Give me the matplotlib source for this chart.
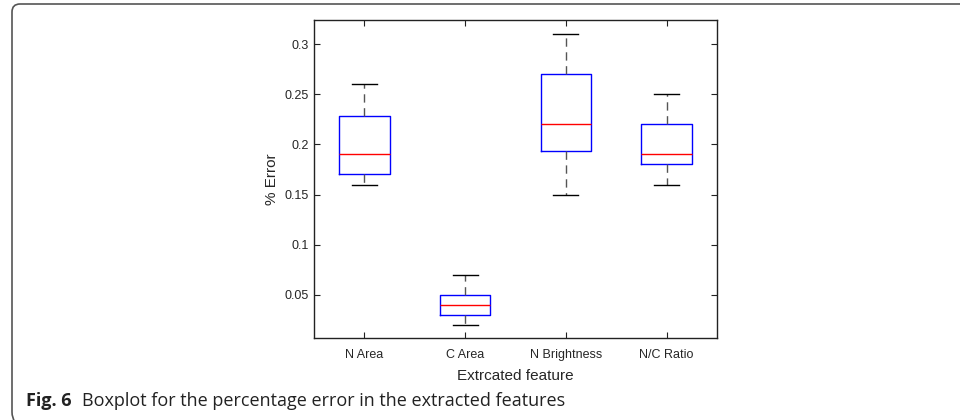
import matplotlib
matplotlib.use('Agg')
from matplotlib import pyplot as plt
from matplotlib.path import Path
from matplotlib.patches import PathPatch

features = ['N Area', 'C Area', 'N Brightness', 'N/C Ratio']
whislo = [0.16, 0.02, 0.15, 0.16]
q1 = [0.17, 0.03, 0.193, 0.18]
med = [0.19, 0.04, 0.22, 0.19]
q3 = [0.228, 0.05, 0.27, 0.22]
whishi = [0.26, 0.07, 0.31, 0.25]
y_ticks = [0.05, 0.1, 0.15, 0.2, 0.25, 0.3]
y_tick_labels = ['0.05', '0.1', '0.15', '0.2', '0.25', '0.3']

plt.rcParams['font.family'] = ['Liberation Sans', 'DejaVu Sans']

stats = []
for i, name in enumerate(features):
    stats.append({'label': name, 'whislo': whislo[i], 'q1': q1[i], 'med': med[i],
                  'q3': q3[i], 'whishi': whishi[i], 'fliers': []})

fig = plt.figure(figsize=(9.6, 4.2), dpi=100)
ax = fig.add_axes([314 / 960, 82 / 420, 403 / 960, 318 / 420])

ax.bxp(stats, positions=[1, 2, 3, 4], widths=0.5, showfliers=False,
       boxprops={'color': '#0000ff', 'linewidth': 1.0},
       medianprops={'color': '#ff0000', 'linewidth': 1.0},
       whiskerprops={'color': '#555555', 'linewidth': 1.0, 'linestyle': (0, (6, 4))},
       capprops={'color': 'black', 'linewidth': 1.0},
       capwidths=0.25)

ax.set_xlim(0.5, 4.5)
ax.set_ylim(0.0067, 0.3243)
ax.set_yticks(y_ticks)
ax.set_yticklabels(y_tick_labels)
ax.set_xticks([1, 2, 3, 4])
ax.set_xticklabels(features)
ax.tick_params(direction='in', length=4, top=True, right=True, labelsize=9,
               colors='#222222', labelcolor='#262626')
ax.tick_params(axis='y', pad=4)
ax.tick_params(axis='x', pad=8)
for sp in ax.spines.values():
    sp.set_color('#222222')
    sp.set_linewidth(1.0)

ax.set_ylabel('% Error', fontsize=11, color='#262626', labelpad=4)
ax.set_xlabel('Extrcated feature', fontsize=11, color='#262626', labelpad=6)

# rounded frame around the figure
W, H = 960, 420
verts = [(W, H - 4), (20, H - 4), (12, H - 4), (12, H - 12), (12, 8), (12, 2), (15, -2)]
codes = [Path.MOVETO, Path.LINETO, Path.CURVE3, Path.CURVE3, Path.LINETO, Path.CURVE3, Path.CURVE3]
verts = [(x / W, y / H) for x, y in verts]
frame = PathPatch(Path(verts, codes), transform=fig.transFigure, fill=False,
                  edgecolor='#555555', linewidth=1.2)
fig.patches.append(frame)

# caption
cap_font = ['Open Sans', 'DejaVu Sans']
t1 = fig.text(26 / W, 1 - 406 / H, 'Fig. 6', fontsize=13, fontweight='bold',
              family=cap_font, va='baseline', color='#222222')
fig.canvas.draw()
bb = t1.get_window_extent()
fig.text(bb.x1 / W + 10 / W, 1 - 406 / H, 'Boxplot for the percentage error in the extracted features',
         fontsize=13, family=cap_font, va='baseline', color='#222222')

fig.savefig('out.png', dpi=100)
